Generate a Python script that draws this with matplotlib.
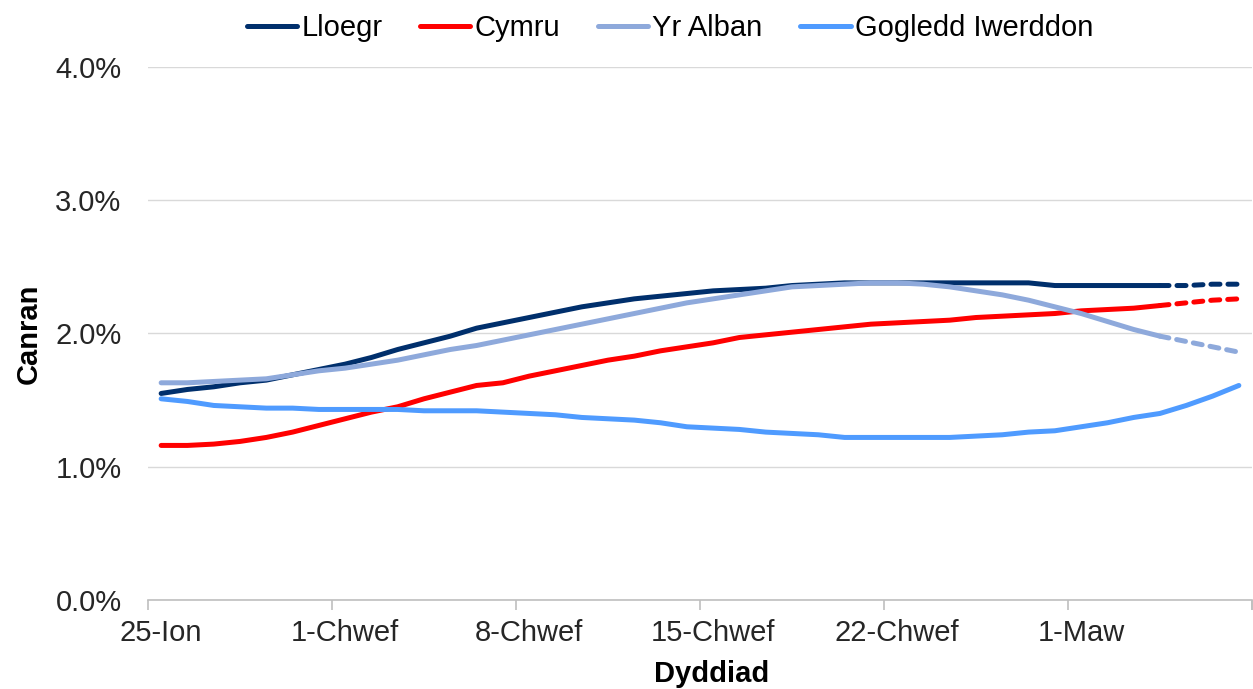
import numpy as np
import matplotlib
matplotlib.use("Agg")
from matplotlib import pyplot as plt
from matplotlib.ticker import FixedLocator, FuncFormatter

plt.rcParams['font.family'] = ['Liberation Sans', 'DejaVu Sans']

# 数据：每日一个点 (25-Ion 起, 共 42 天)
tick_labels = ['25-Ion', '1-Chwef', '8-Chwef', '15-Chwef', '22-Chwef', '1-Maw']
series_names = ['Lloegr', 'Cymru', 'Yr Alban', 'Gogledd Iwerddon']

lloegr = [1.55, 1.58, 1.60, 1.63, 1.65, 1.69, 1.73, 1.77, 1.82, 1.88,
          1.93, 1.98, 2.04, 2.08, 2.12, 2.16, 2.20, 2.23, 2.26, 2.28,
          2.30, 2.32, 2.33, 2.34, 2.36, 2.37, 2.38, 2.38, 2.38, 2.38,
          2.38, 2.38, 2.38, 2.38, 2.36, 2.36, 2.36, 2.36, 2.36, 2.36,
          2.37, 2.37]
cymru = [1.16, 1.16, 1.17, 1.19, 1.22, 1.26, 1.31, 1.36, 1.41, 1.45,
         1.51, 1.56, 1.61, 1.63, 1.68, 1.72, 1.76, 1.80, 1.83, 1.87,
         1.90, 1.93, 1.97, 1.99, 2.01, 2.03, 2.05, 2.07, 2.08, 2.09,
         2.10, 2.12, 2.13, 2.14, 2.15, 2.17, 2.18, 2.19, 2.21, 2.23,
         2.25, 2.26]
yr_alban = [1.63, 1.63, 1.64, 1.65, 1.66, 1.69, 1.72, 1.74, 1.77, 1.80,
            1.84, 1.88, 1.91, 1.95, 1.99, 2.03, 2.07, 2.11, 2.15, 2.19,
            2.23, 2.26, 2.29, 2.32, 2.35, 2.36, 2.37, 2.38, 2.38, 2.37,
            2.35, 2.32, 2.29, 2.25, 2.20, 2.15, 2.09, 2.03, 1.98, 1.94,
            1.90, 1.86]
gogledd = [1.51, 1.49, 1.46, 1.45, 1.44, 1.44, 1.43, 1.43, 1.43, 1.43,
           1.42, 1.42, 1.42, 1.41, 1.40, 1.39, 1.37, 1.36, 1.35, 1.33,
           1.30, 1.29, 1.28, 1.26, 1.25, 1.24, 1.22, 1.22, 1.22, 1.22,
           1.22, 1.23, 1.24, 1.26, 1.27, 1.30, 1.33, 1.37, 1.40, 1.46,
           1.53, 1.61]
split = 38  # 之后为虚线 (仅前三条)

colors = ['#002F6C', '#FF0000', '#8EA9DB', '#4F9BFF']

fig = plt.figure(figsize=(12.53, 6.89), dpi=100)
ax = fig.add_axes([148/1253, 1-600/689, 1104/1253, 533/689])

x = np.arange(len(lloegr))
data = [lloegr, cymru, yr_alban, gogledd]
lw = 3.6
for i, (name, vals, c) in enumerate(zip(series_names, data, colors)):
    vals = np.array(vals)
    if i < 3:
        ax.plot(x[:split+1], vals[:split+1], color=c, lw=lw, label=name,
                solid_capstyle='round', zorder=3+i)
        ax.plot(x[split:], vals[split:], color=c, lw=lw, ls=(0, (1.8, 1.6)),
                dash_capstyle='round', zorder=3+i)
    else:
        ax.plot(x, vals, color=c, lw=lw, label=name, solid_capstyle='round', zorder=3+i)

ax.set_xlim(-0.5, len(x) - 0.5)
ax.set_ylim(0, 4)
ax.set_yticks([0, 1, 2, 3, 4])
ax.yaxis.set_major_formatter(FuncFormatter(lambda v, p: f'{v:.1f}%'))
ax.grid(axis='y', color='#D9D9D9', lw=1.0)
ax.set_axisbelow(True)

ax.set_xticks(np.arange(0, len(x), 7))
ax.set_xticklabels(tick_labels)
ax.xaxis.set_minor_locator(FixedLocator(np.arange(-0.5, len(x), 7).tolist() + [len(x) - 0.5]))
ax.tick_params(axis='x', which='major', length=0, pad=14, labelsize=21, colors='#262626')
ax.tick_params(axis='x', which='minor', length=7, width=1.2, color='#BFBFBF', direction='out')
ax.tick_params(axis='y', length=0, pad=19, labelsize=21, colors='#262626')

for s in ['top', 'right', 'left']:
    ax.spines[s].set_visible(False)
ax.spines['bottom'].set_color('#BFBFBF')
ax.spines['bottom'].set_linewidth(1.2)

ax.set_ylabel('Canran', fontsize=21, fontweight='bold', labelpad=9)
ax.set_xlabel('Dyddiad', fontsize=21, fontweight='bold', labelpad=9)
ax.xaxis.label.set_x((712 - 148) / 1104)

fig.legend(loc='center', bbox_to_anchor=(670/1253, 1-28/689), ncol=4, frameon=False,
           fontsize=21, handlelength=1.72, handletextpad=0.14, columnspacing=1.3)

fig.savefig('out.png', dpi=100)
